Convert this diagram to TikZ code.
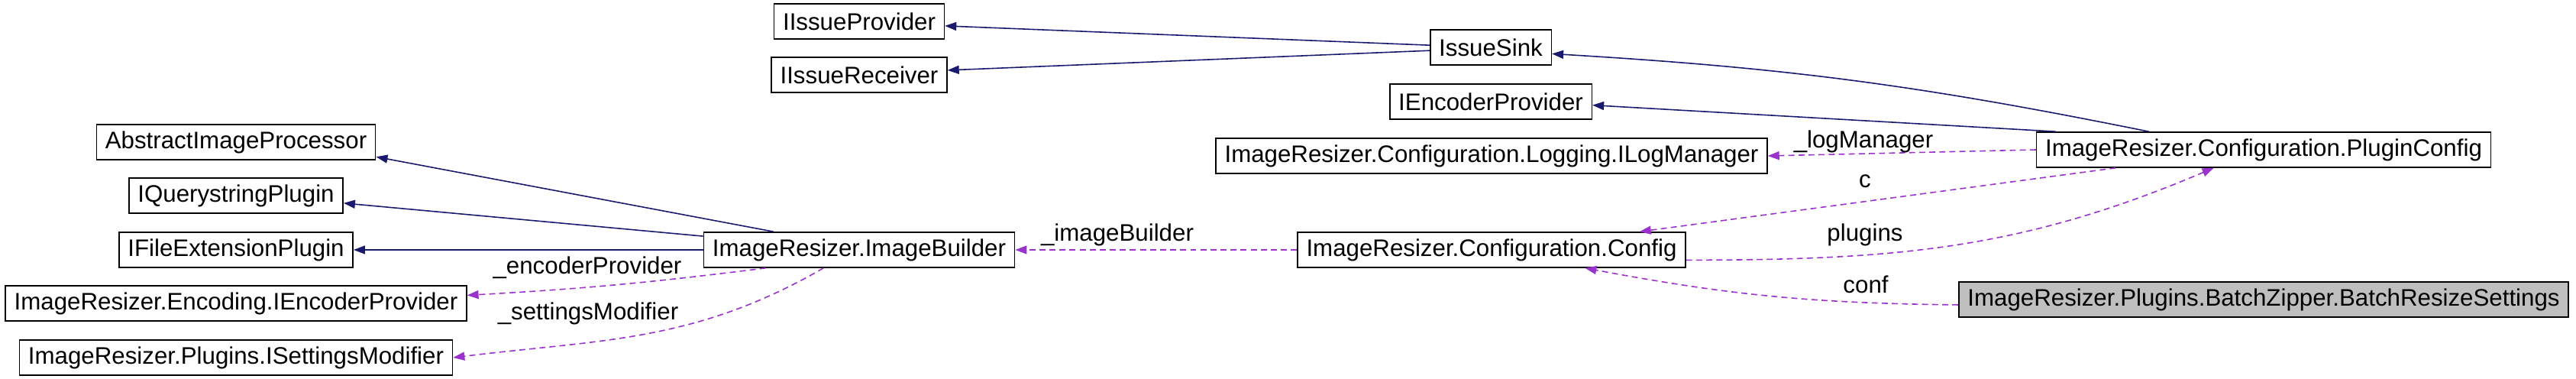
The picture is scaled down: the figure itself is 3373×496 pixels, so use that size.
\documentclass[tikz,border=0pt]{standalone}
\usepackage{fontspec}
\setmainfont{Liberation Sans}
\usepackage{xcolor}
\usetikzlibrary{arrows.meta}
\definecolor{inkblue}{HTML}{191970}
\definecolor{usepurple}{HTML}{9A32CD}
\definecolor{focusgray}{HTML}{BFBFBF}
\tikzset{
  classbox/.style={draw=black,fill=white,line width=0.9pt,
                   minimum height=0.92cm,inner xsep=0.23cm,inner ysep=2pt,
                   font=\fontsize{17.8}{20}\selectfont},
  focusbox/.style={classbox,fill=focusgray},
  inheritarr/.style={-{Triangle[length=3mm,width=2.2mm]},line width=0.9pt,color=inkblue},
  usearr/.style={-{Triangle[length=3mm,width=2.2mm]},line width=0.9pt,color=usepurple,
                 dash pattern=on 4.5pt off 3pt},
  edgelbl/.style={font=\fontsize{17.8}{20}\selectfont,inner sep=1pt}
}

\begin{document}
\begin{tikzpicture}[x=0.02cm,y=0.02cm]
  \useasboundingbox (0,0) rectangle (3373,496);

  % left column
  \node[classbox] (aip) at (309,310) {AbstractImageProcessor};
  \node[classbox] (iqs) at (309,240) {IQuerystringPlugin};
  \node[classbox] (ifext) at (309,169) {IFileExtensionPlugin};
  \node[classbox] (encp) at (309,99) {ImageResizer.Encoding.IEncoderProvider};
  \node[classbox] (setm) at (309,28) {ImageResizer.Plugins.ISettingsModifier};

  % middle
  \node[classbox] (iprov) at (1125,468) {IIssueProvider};
  \node[classbox] (irecv) at (1125,398) {IIssueReceiver};
  \node[classbox] (builder) at (1125,169) {ImageResizer.ImageBuilder};

  \node[classbox] (sink) at (1952,434) {IssueSink};
  \node[classbox] (iencp) at (1952,363) {IEncoderProvider};
  \node[classbox] (logm) at (1953,292) {ImageResizer.Configuration.Logging.ILogManager};
  \node[classbox] (config) at (1953,169) {ImageResizer.Configuration.Config};

  % right column
  \node[classbox] (pconf) at (2964,300) {ImageResizer.Configuration.PluginConfig};
  \node[focusbox] (batch) at (2964,104) {ImageResizer.Plugins.BatchZipper.BatchResizeSettings};

  % inheritance
  \draw[inheritarr] (builder.168) -- (aip.-6);
  \draw[inheritarr] (builder.175) -- (iqs.-4);
  \draw[inheritarr] (builder.west) -- (ifext.east);
  \draw[inheritarr] (sink.178) -- (iprov.-3);
  \draw[inheritarr] (sink.-177) -- (irecv.3);
  \draw[inheritarr] (pconf.171) to[bend right=4] (sink.-6);
  \draw[inheritarr] (pconf.175) -- (iencp.-2);

  % usage
  \draw[usearr] (config.west) -- (builder.east);
  \draw[usearr] (builder.191) to[bend left=2] (encp.2);
  \draw[usearr] (builder.-153) to[out=-150,in=7] (setm.east);
  \draw[usearr] (pconf.west) -- (logm.east);
  \draw[usearr] (pconf.187) -- (config.7);
  \draw[usearr] (config.-3) to[out=0,in=-157] (pconf.-160);
  \draw[usearr] (batch.181) to[bend left=5] (config.-11);

  \node[edgelbl] (lblbuilder) at (1463,189) {\_imageBuilder};
  \node[edgelbl] (lblencp) at (769,146) {\_encoderProvider};
  \node[edgelbl] (lblsetm) at (770,86) {\_settingsModifier};
  \node[edgelbl] (lbllogm) at (2440,311) {\_logManager};
  \node[edgelbl] (lblc) at (2442,259) {c};
  \node[edgelbl] (lblplugins) at (2442,189) {plugins};
  \node[edgelbl] (lblconf) at (2443,124) {conf};
\end{tikzpicture}
\end{document}
